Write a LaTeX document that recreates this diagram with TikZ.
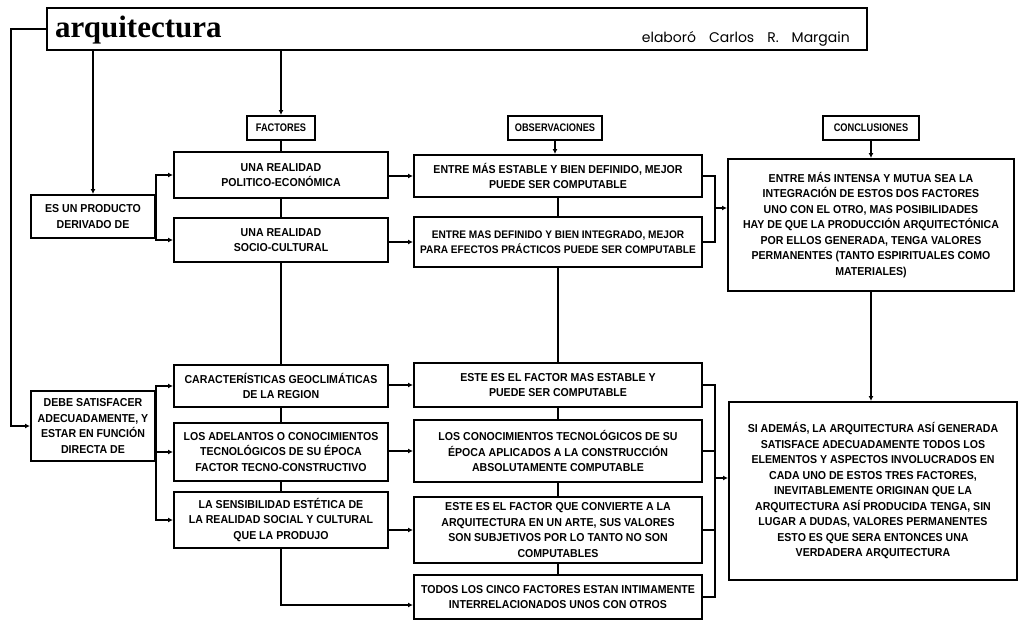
\documentclass[tikz,border=0pt]{standalone}
\usepackage{fontspec}
\setmainfont{Liberation Sans}
\newfontfamily\boxfont[FakeStretch=0.92]{Liberation Sans}
\newfontfamily\headfont[FakeStretch=0.84]{Liberation Sans}
\newfontfamily\titlefont{Liberation Serif}
\newfontfamily\authfont{Poppins}
\usetikzlibrary{arrows.meta}
\begin{document}
\begin{tikzpicture}[x=1pt,y=-1pt,
  box/.style={draw, line width=2pt, align=center, inner sep=1pt,
    font={\boxfont\bfseries\fontsize{11.5}{15.5}\selectfont}},
  headbox/.style={box, font={\headfont\bfseries\fontsize{11}{15.5}\selectfont}},
  ln/.style={line width=2pt},
  arr/.style={line width=2pt, -{Latex[length=5pt,width=5pt]}}]
\fill[white] (0,0) rectangle (1023,630);
\useasboundingbox (0,0) rectangle (1023,630);

% title
\node[draw, line width=2pt, minimum width=820pt, minimum height=42pt, inner sep=0pt] (title) at (457,29) {};
\node[anchor=base west, inner sep=0pt, font={\titlefont\bfseries\fontsize{31}{31}\selectfont}] (ttext) at (55,37) {arquitectura};
\node[anchor=base east, inner sep=0pt, font={\authfont\fontsize{14}{14}\selectfont}] (auth) at (850,42) {elaboró\hspace{13pt}Carlos\hspace{13pt}R.\hspace{13pt}Margain};

% headers
\node[headbox, minimum width=68pt, minimum height=24pt] (fac) at (281,128) {FACTORES};
\node[headbox, minimum width=94pt, minimum height=24pt] (obs) at (555,128) {OBSERVACIONES};
\node[headbox, minimum width=96pt, minimum height=24pt] (con) at (871,128) {CONCLUSIONES};

% left boxes
\node[box, minimum width=124pt, minimum height=43pt] (es) at (93,216.5) {ES UN PRODUCTO\\DERIVADO DE};
\node[box, minimum width=124pt, minimum height=70pt] (debe) at (93,426) {DEBE SATISFACER\\ADECUADAMENTE, Y\\ESTAR EN FUNCIÓN\\DIRECTA DE};

% factors
\node[box, minimum width=214pt, minimum height=46pt] (f1) at (281,175) {UNA REALIDAD\\POLITICO-ECONÓMICA};
\node[box, minimum width=214pt, minimum height=44pt] (f2) at (281,240) {UNA REALIDAD\\SOCIO-CULTURAL};
\node[box, minimum width=214pt, minimum height=42pt] (f3) at (281,386) {CARACTERÍSTICAS GEOCLIMÁTICAS\\DE LA REGION};
\node[box, minimum width=214pt, minimum height=58pt] (f4) at (281,452) {LOS ADELANTOS O CONOCIMIENTOS\\TECNOLÓGICOS DE SU ÉPOCA\\FACTOR TECNO-CONSTRUCTIVO};
\node[box, minimum width=214pt, minimum height=56pt] (f5) at (281,520) {LA SENSIBILIDAD ESTÉTICA DE\\LA REALIDAD SOCIAL Y CULTURAL\\QUE LA PRODUJO};

% observations
\node[box, minimum width=288pt, minimum height=42pt] (o1) at (558,176) {ENTRE MÁS ESTABLE Y BIEN DEFINIDO, MEJOR\\PUEDE SER COMPUTABLE};
\node[box, minimum width=288pt, minimum height=50pt, font={\boxfont\bfseries\fontsize{11}{15.5}\selectfont}] (o2) at (558,242) {ENTRE MAS DEFINIDO Y BIEN INTEGRADO, MEJOR\\PARA EFECTOS PRÁCTICOS PUEDE SER COMPUTABLE};
\node[box, minimum width=288pt, minimum height=44pt] (o3) at (558,385) {ESTE ES EL FACTOR MAS ESTABLE Y\\PUEDE SER COMPUTABLE};
\node[box, minimum width=288pt, minimum height=62pt] (o4) at (558,451) {LOS CONOCIMIENTOS TECNOLÓGICOS DE SU\\ÉPOCA APLICADOS A LA CONSTRUCCIÓN\\ABSOLUTAMENTE COMPUTABLE};
\node[box, minimum width=288pt, minimum height=66pt] (o5) at (558,530) {ESTE ES EL FACTOR QUE CONVIERTE A LA\\ARQUITECTURA EN UN ARTE, SUS VALORES\\SON SUBJETIVOS POR LO TANTO NO SON\\COMPUTABLES};
\node[box, minimum width=288pt, minimum height=44pt] (o6) at (558,597) {TODOS LOS CINCO FACTORES ESTAN INTIMAMENTE\\INTERRELACIONADOS UNOS CON OTROS};

% conclusions
\node[box, minimum width=286pt, minimum height=132pt] (c1) at (871,225) {ENTRE MÁS INTENSA Y MUTUA SEA LA\\INTEGRACIÓN DE ESTOS DOS FACTORES\\UNO CON EL OTRO, MAS POSIBILIDADES\\HAY DE QUE LA PRODUCCIÓN ARQUITECTÓNICA\\POR ELLOS GENERADA, TENGA VALORES\\PERMANENTES (TANTO ESPIRITUALES COMO\\MATERIALES)};
\node[box, minimum width=288pt, minimum height=178pt] (c2) at (873,491) {SI ADEMÁS, LA ARQUITECTURA ASÍ GENERADA\\SATISFACE ADECUADAMENTE TODOS LOS\\ELEMENTOS Y ASPECTOS INVOLUCRADOS EN\\CADA UNO DE ESTOS TRES FACTORES,\\INEVITABLEMENTE ORIGINAN QUE LA\\ARQUITECTURA ASÍ PRODUCIDA TENGA, SIN\\LUGAR A DUDAS, VALORES PERMANENTES\\ESTO ES QUE SERA ENTONCES UNA\\VERDADERA ARQUITECTURA};

% connectors from title
\draw[arr] (title.west) -- ++(-35,0) |- (debe.west);
\draw[arr] (title.south -| es.north) -- (es.north);
\draw[arr] (title.south -| fac.north) -- (fac.north);
\draw[ln] (fac.south) -- (fac.south |- f1.north);
\draw[arr] (obs.south) -- (obs.south |- o1.north);
\draw[arr] (con.south) -- (con.south |- c1.north);

% column spines
\draw[ln] (f1.south) -- (f2.north);
\draw[ln] (f2.south) -- (f3.north);
\draw[ln] (f3.south) -- (f4.north);
\draw[ln] (f4.south) -- (f5.north);
\draw[ln] (o1.south) -- (o2.north);
\draw[ln] (o2.south) -- (o3.north);
\draw[ln] (o3.south) -- (o4.north);
\draw[ln] (o4.south) -- (o5.north);
\draw[ln] (o5.south) -- (o6.north);

% left brackets
\draw[arr] (es.east) |- (f1.west);
\draw[arr] (es.east) |- (f2.west);
\draw[arr] (debe.east) |- (f3.west);
\draw[arr] (debe.east) |- (f4.west);
\draw[arr] (debe.east) |- (f5.west);

% factors to observations
\draw[arr] (f1.east |- o1.west) -- (o1.west);
\draw[arr] (f2.east |- o2.west) -- (o2.west);
\draw[arr] (f3.east |- o3.west) -- (o3.west);
\draw[arr] (f4.east |- o4.west) -- (o4.west);
\draw[arr] (f5.east |- o5.west) -- (o5.west);
\draw[arr] (f5.south) |- ([yshift=-8pt]o6.west);

% observations to conclusions
\coordinate (j1) at (715,208);
\draw[ln] (o1.east) -| (j1);
\draw[ln] (o2.east) -| (j1);
\draw[arr] (j1) -- (j1 -| c1.west);
\coordinate (j2) at (715,478);
\draw[ln] (o3.east) -| (j2);
\draw[ln] (o4.east) -| (j2);
\draw[ln] (o5.east) -| (j2);
\draw[ln] (o6.east) -| (j2);
\draw[arr] (j2) -- (j2 -| c2.west);
\draw[arr] (c1.south) -- (c1.south |- c2.north);
\end{tikzpicture}
\end{document}
